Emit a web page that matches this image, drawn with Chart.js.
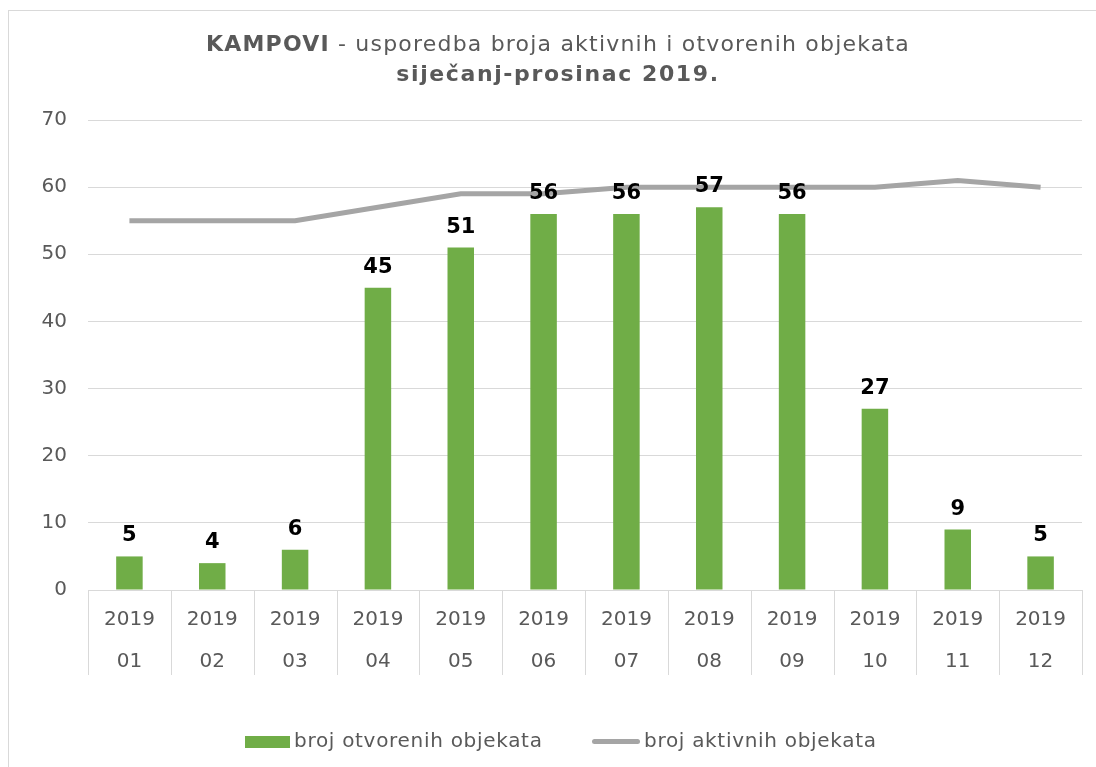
<!DOCTYPE html>
<html>
<head>
<meta charset="utf-8">
<script src="https://cdn.jsdelivr.net/npm/chart.js@4/dist/chart.umd.min.js"></script>
<style>
  html, body { margin: 0; padding: 0; background: #fff; }
  body { width: 1096px; height: 767px; position: relative; overflow: hidden; font-family: "DejaVu Sans", Verdana, sans-serif; }
  #frame { position: absolute; left: 8px; top: 10px; width: 1100px; height: 800px; border: 1px solid #d9d9d9; box-sizing: border-box; }
  #title { position: absolute; left: 10px; top: 29px; width: 1096px; text-align: center; color: #595959; font-size: 22px; line-height: 30px; letter-spacing: 1.2px; }
  #legend { position: absolute; top: 726px; left: 0; width: 1096px; color: #595959; font-size: 20px; letter-spacing: 0.7px; }
  .item { position: absolute; top: 0; white-space: nowrap; line-height: 28px; }
  .swatch { display: inline-block; vertical-align: middle; margin-right: 4px; }
  #wrap { position: absolute; left: 0; top: 0; width: 1096px; height: 767px; }
</style>
</head>
<body>
<div id="frame"></div>
<div id="wrap"><canvas id="chart" width="1096" height="767"></canvas></div>
<div id="title"><b>KAMPOVI</b> - usporedba broja aktivnih i otvorenih objekata<br><b style="letter-spacing:1.6px">siječanj-prosinac 2019.</b></div>
<div id="legend">
  <span class="item" style="left:245px"><span class="swatch" style="width:45px;height:12px;background:#70ad47"></span>broj otvorenih objekata</span>
  <span class="item" style="left:592px"><span class="swatch" style="width:48px;height:5px;background:#a5a5a5;border-radius:3px"></span>broj aktivnih objekata</span>
</div>
<script>
const years = ['2019', '2019', '2019', '2019', '2019', '2019', '2019', '2019', '2019', '2019', '2019', '2019'];
const months = ['01', '02', '03', '04', '05', '06', '07', '08', '09', '10', '11', '12'];
const otvoreni = [5, 4, 6, 45, 51, 56, 56, 57, 56, 27, 9, 5];
const aktivni = [55, 55, 55, 57, 59, 59, 60, 60, 60, 60, 61, 60];

const labels = years.map((y, i) => [y, months[i]]);

// value labels above the bars
const barLabels = {
  id: 'barLabels',
  afterDatasetsDraw(chart) {
    const ctx = chart.ctx;
    const meta = chart.getDatasetMeta(0);
    ctx.save();
    ctx.font = 'bold 21px "DejaVu Sans"';
    ctx.fillStyle = '#000';
    ctx.textAlign = 'center';
    ctx.textBaseline = 'alphabetic';
    meta.data.forEach((bar, i) => {
      ctx.fillText(String(otvoreni[i]), bar.x, bar.y - 15);
    });
    ctx.restore();
  }
};

// category separators under the x axis
const separators = {
  id: 'separators',
  afterDraw(chart) {
    const ctx = chart.ctx;
    const x = chart.scales.x;
    const top = chart.chartArea.bottom;
    const step = (x.right - x.left) / labels.length;
    ctx.save();
    ctx.strokeStyle = '#d9d9d9';
    ctx.lineWidth = 1;
    ctx.beginPath();
    for (let i = 0; i <= labels.length; i++) {
      const px = Math.round(x.left + i * step) + 0.5;
      ctx.moveTo(px, top);
      ctx.lineTo(px, top + 85);
    }
    ctx.stroke();
    ctx.restore();
  }
};

new Chart(document.getElementById('chart'), {
  data: {
    labels: labels,
    datasets: [
      {
        type: 'bar',
        label: 'broj otvorenih objekata',
        data: otvoreni,
        backgroundColor: '#70ad47',
        barPercentage: 0.32,
        categoryPercentage: 1,
        order: 2
      },
      {
        type: 'line',
        label: 'broj aktivnih objekata',
        data: aktivni,
        borderColor: '#a5a5a5',
        borderWidth: 5,
        pointRadius: 0,
        tension: 0,
        fill: false,
        order: 1
      }
    ]
  },
  options: {
    responsive: false,
    animation: false,
    layout: { padding: { top: 120, left: 0, right: 14, bottom: 92 } },
    plugins: {
      legend: { display: false },
      title: { display: false },
      tooltip: { enabled: false }
    },
    scales: {
      x: {
        grid: { display: false },
        border: { display: false },
        ticks: {
          color: '#595959',
          font: { family: 'DejaVu Sans', size: 20, lineHeight: 2.1 },
          padding: 1,
          maxRotation: 0,
          autoSkip: false
        },
        afterFit(scale) { scale.height = 85; }
      },
      y: {
        min: 0,
        max: 70,
        ticks: {
          stepSize: 10,
          color: '#595959',
          font: { family: 'DejaVu Sans', size: 20 },
          padding: 21
        },
        grid: { color: '#d9d9d9', drawTicks: false },
        border: { display: false },
        afterFit(scale) { scale.width = 88; }
      }
    }
  },
  plugins: [barLabels, separators]
});
</script>
</body>
</html>
